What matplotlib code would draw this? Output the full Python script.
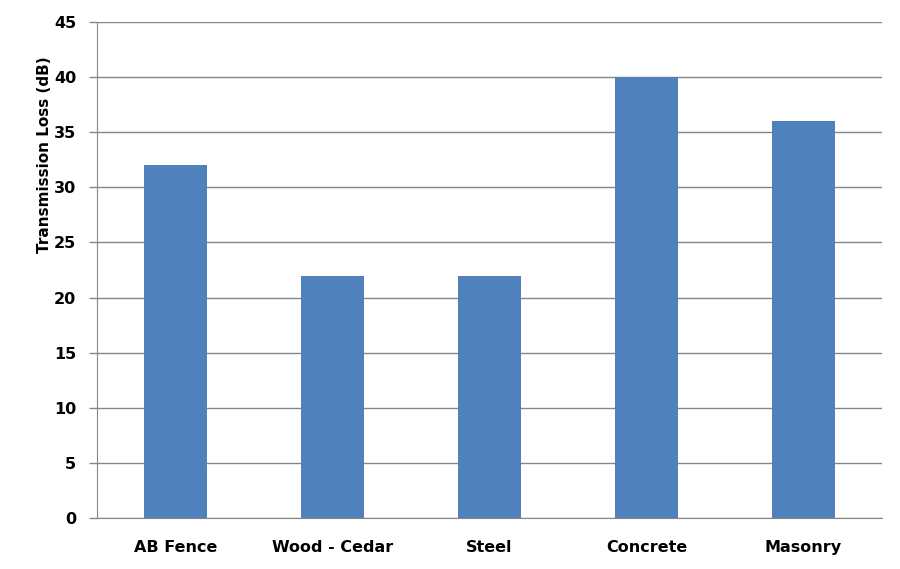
import matplotlib
matplotlib.use("Agg")
import matplotlib.pyplot as plt
import numpy as np

materials = ["AB Fence", "Wood - Cedar", "Steel", "Concrete", "Masonry"]
transmission_loss = [32, 22, 22, 40, 36]
y_ticks = [0, 5, 10, 15, 20, 25, 30, 35, 40, 45]

plt.rcParams["font.family"] = ["DejaVu Sans"]

fig = plt.figure(figsize=(9, 5.69), dpi=100)
ax = fig.add_axes([0.1078, 0.0896, 0.8722, 0.8717])

x = np.arange(len(materials))
ax.bar(x, transmission_loss, width=0.4, color="#4F81BD", zorder=3)

ax.set_xlim(-0.5, len(materials) - 0.5)
ax.set_ylim(0, 45)
ax.set_yticks(y_ticks)
ax.set_xticks(x)
ax.set_xticklabels(materials, fontsize=11.5, fontweight="bold")
ax.set_yticklabels([str(t) for t in y_ticks], fontsize=11.5, fontweight="bold")
ax.tick_params(axis="x", length=0, pad=16)
ax.tick_params(axis="y", length=6, width=1, color="#868686", pad=9)

ax.grid(axis="y", color="#868686", linewidth=1, zorder=0)
for side in ["top", "right"]:
    ax.spines[side].set_visible(False)
ax.spines["left"].set_color("#868686")
ax.spines["bottom"].set_color("#868686")

ax.set_ylabel("Transmission Loss (dB)", fontsize=11, fontweight="bold")
ax.yaxis.set_label_coords(-0.057, 0.732)

fig.savefig("out.png", dpi=100)
